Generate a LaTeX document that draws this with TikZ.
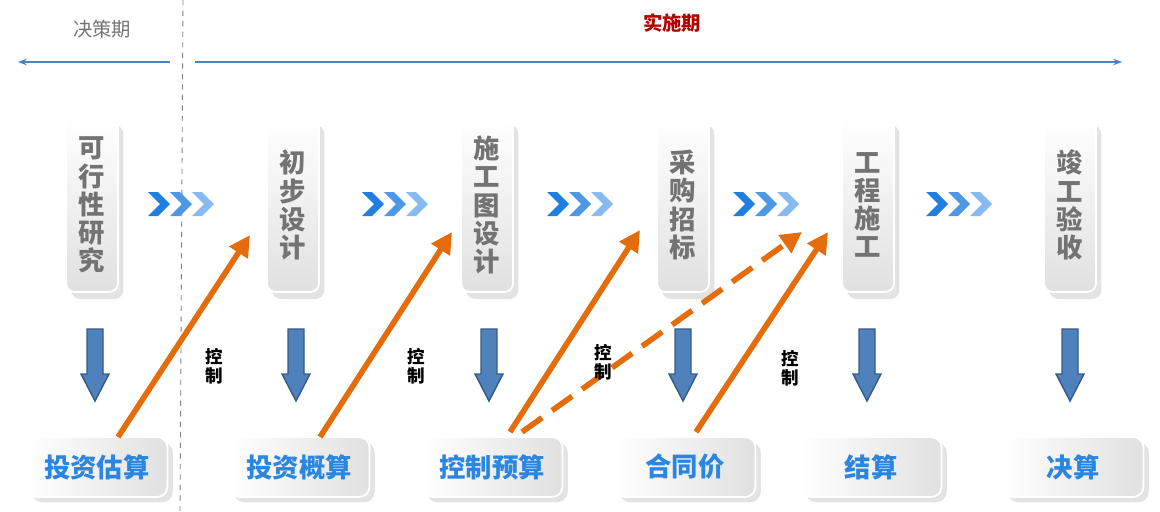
\documentclass[tikz,border=0pt]{standalone}
\usepackage{fontspec}
\setmainfont{Noto Sans CJK SC}
\usetikzlibrary{arrows.meta,shadows}

\definecolor{chevA}{HTML}{1F7FE0}
\definecolor{chevB}{HTML}{4C98E6}
\definecolor{chevC}{HTML}{86BAF0}
\definecolor{ctlorange}{HTML}{E46C0A}
\definecolor{costblue}{HTML}{2A86E0}
\definecolor{downblue}{HTML}{4F81BD}

\newcommand{\pu}{0.02cm}
\tikzset{
  stagebox/.style={draw=white, line width=1pt, rounded corners=5pt, minimum width=52*\pu, minimum height=174*\pu,
    top color=white, bottom color=black!12, align=center, inner sep=0pt,
    font=\bfseries\fontsize{15}{16}\selectfont, text=black!55,
    drop shadow={shadow xshift=3pt, shadow yshift=-4pt, fill=black!18, opacity=.6}},
  costbox/.style={draw=white, line width=1pt, rounded corners=6pt, minimum width=141*\pu, minimum height=60*\pu,
    left color=white, right color=black!12, inner sep=0pt,
    font=\bfseries\fontsize{15}{17}\selectfont, text=costblue,
    drop shadow={shadow xshift=3pt, shadow yshift=-3pt, fill=black!18, opacity=.6}},
  downarrow/.style={draw=downblue!70!black, fill=downblue, line width=.8pt},
  chev/.style={fill=#1, draw=none},
  ctlarrow/.style={draw=ctlorange, line width=3.2pt, -{Triangle[length=12pt,width=12pt]}},
  ctllabel/.style={font=\bfseries\fontsize{10}{11}\selectfont, align=center, inner sep=0pt},
  phasearrow/.style={draw=downblue, line width=.6pt, -{Stealth[length=5pt]}}
}
\newcommand{\chevs}[1]{% three chevrons starting at x=#1
  \foreach \k/\c in {0/chevA,1/chevB,2/chevC}
    \fill[chev=\c] ({#1+\k*22},192) -- ({#1+\k*22+10},192) -- ({#1+\k*22+22},204)
      -- ({#1+\k*22+10},216) -- ({#1+\k*22},216) -- ({#1+\k*22+12},204) -- cycle;}

\begin{document}
\begin{tikzpicture}[x=0.02cm, y=-0.02cm]
\useasboundingbox (0,0) rectangle (1160,511);

% phases
\draw[black!50, dashed, line width=.5pt] (183,0) -- (180,511);
\node[text=black!55, font=\fontsize{11}{13}\selectfont] (jc) at (102,29) {决策期};
\node[text=red!70!black, font=\bfseries\fontsize{11}{13}\selectfont] (ss) at (672,23) {实施期};
\coordinate (jcR) at (170,62);
\coordinate (jcL) at (18,62);
\coordinate (ssL) at (195,62);
\coordinate (ssR) at (1122,62);
\draw[phasearrow] (jcR) -- (jcL);
\draw[phasearrow] (ssL) -- (ssR);

% stages
\node[stagebox] (s1) at (92,205) {可\\行\\性\\研\\究};
\node[stagebox] (s2) at (293,205) {初\\步\\设\\计};
\node[stagebox] (s3) at (487,205) {施\\工\\图\\设\\计};
\node[stagebox] (s4) at (683,205) {采\\购\\招\\标};
\node[stagebox] (s5) at (868,205) {工\\程\\施\\工};
\node[stagebox] (s6) at (1070,205) {竣\\工\\验\\收};

\chevs{148}
\chevs{362}
\chevs{547}
\chevs{733}
\chevs{926}

% costs
\node[costbox] (c1) at (97,467) {投资估算};
\node[costbox] (c2) at (299,467) {投资概算};
\node[costbox] (c3) at (492,467) {控制预算};
\node[costbox] (c4) at (685,467) {合同价};
\node[costbox] (c5) at (871,467) {结算};
\node[costbox] (c6) at (1073,467) {决算};

\foreach \x in {95,296,489,683,867,1070}
  \draw[downarrow] ({\x-8},329) -- ({\x+8},329) -- ({\x+8},374) -- ({\x+14},374)
    -- (\x,401) -- ({\x-14},374) -- ({\x-8},374) -- cycle;

% control
\coordinate (f1) at (118,437);
\coordinate (f2) at (320,437);
\coordinate (f3) at (510,432);
\coordinate (f3b) at (522,432);
\coordinate (f4) at (696,432);
\coordinate (t2) at (250,235);
\coordinate (t3) at (452,232);
\coordinate (t4) at (640,230);
\coordinate (t5) at (828,232);
\coordinate (t5b) at (802,232);
\draw[ctlarrow] (f1) -- (t2);
\draw[ctlarrow] (f2) -- (t3);
\draw[ctlarrow] (f3) -- (t4);
\draw[ctlarrow, dash pattern=on 14pt off 7pt] (f3b) -- (t5b);
\draw[ctlarrow] (f4) -- (t5);

\node[ctllabel] (k1) at (214,366) {控\\制};
\node[ctllabel] (k2) at (416,366) {控\\制};
\node[ctllabel] (k3) at (603,362) {控\\制};
\node[ctllabel] (k4) at (790,368) {控\\制};
\end{tikzpicture}
\end{document}
